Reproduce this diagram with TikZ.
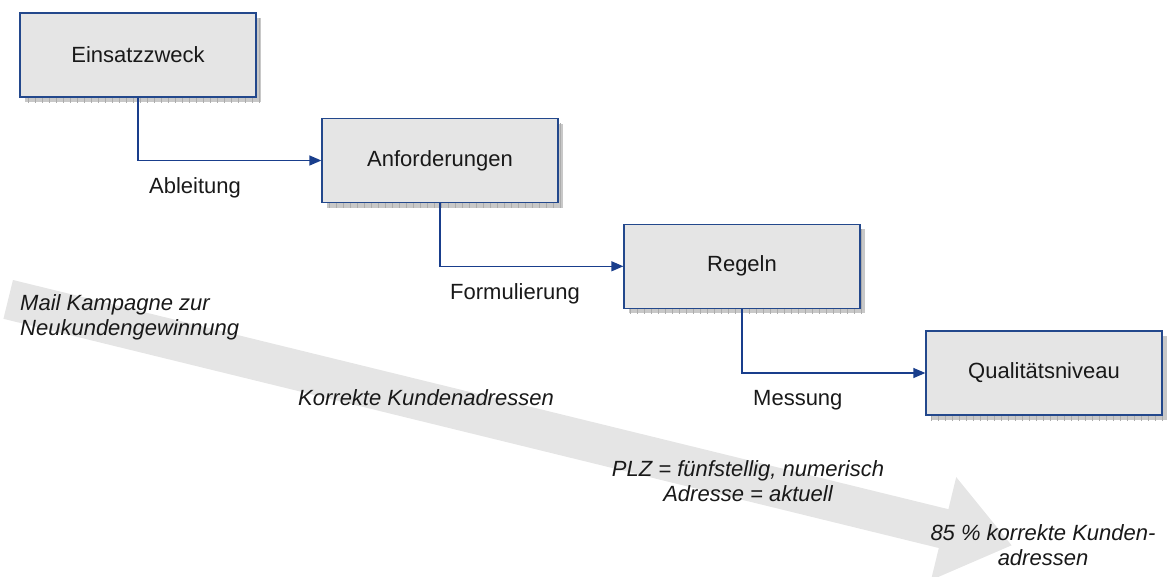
\documentclass[tikz,border=0pt]{standalone}
\usepackage{fontspec}
\setmainfont{Liberation Sans}
\usetikzlibrary{arrows.meta,calc}
\definecolor{boxfill}{RGB}{229,229,229}
\definecolor{boxline}{RGB}{35,72,140}
\definecolor{conline}{RGB}{25,62,140}
\definecolor{shadowfill}{RGB}{200,200,200}
\definecolor{shadowgrid}{RGB}{172,172,172}
\definecolor{bigarrow}{RGB}{229,229,229}
\definecolor{textcol}{RGB}{25,25,25}
\newcommand{\shadowedbox}[3]{%
  \fill[shadowfill] ($#2+(-113,-37)$) rectangle ($#2+(123,47)$);
  \begin{scope}
    \clip ($#2+(-113,-37)$) rectangle ($#2+(123,47)$);
    \draw[shadowgrid, line width=0.6pt, step=7] ($#2+(-126,-50)$) grid ($#2+(130,54)$);
  \end{scope}
  \node[qbox] (#1) at #2 {#3};
}
\begin{document}
\begin{tikzpicture}[x=1pt,y=-1pt,
  qbox/.style={draw=boxline, line width=1.3pt, fill=boxfill, minimum width=236pt,
    minimum height=84pt, inner sep=0pt, font=\fontsize{22}{25}\selectfont, text=textcol},
  conn/.style={draw=conline, line width=1.3pt, -{Triangle[length=12pt,width=10pt]}},
  lbl/.style={font=\fontsize{22}{25}\selectfont, inner sep=0pt, anchor=base west, text=textcol},
  note/.style={font=\fontsize{22}{25}\selectfont\itshape, inner sep=0pt, align=center, text=textcol},
  bigarrowstyle/.style={fill=bigarrow, draw=none}
]
\useasboundingbox (0,0) rectangle (1170,576);
% big background arrow
\fill[bigarrowstyle] (12.96,279.98) -- (948.4,509.2) -- (956.2,477.1) -- (1011.6,545.3)
  -- (931.0,580.1) -- (938.8,548.0) -- (3.44,318.8) -- cycle;
% boxes
\shadowedbox{b1}{(138,55)}{Einsatzzweck}
\shadowedbox{b2}{(440,160.5)}{Anforderungen}
\shadowedbox{b3}{(742,266.3)}{Regeln}
\shadowedbox{b4}{(1044,373)}{Qualitätsniveau}
% connectors
\draw[conn] (b1.south) |- (b2.west);
\draw[conn] (b2.south) |- (b3.west);
\draw[conn] (b3.south) |- (b4.west);
% connector labels
\node[lbl] (l1) at (149,193) {Ableitung};
\node[lbl] (l2) at (450,299) {Formulierung};
\node[lbl] (l3) at (753,405) {Messung};
% notes on the big arrow (base = baseline of last line)
\node[note, align=left, anchor=base west] (n1) at (20,335) {Mail Kampagne zur\\Neukundengewinnung};
\node[note, anchor=base west] (n2) at (298,405) {Korrekte Kundenadressen};
\node[note, anchor=base] (n3) at (748,501) {PLZ = fünfstellig, numerisch\\Adresse = aktuell};
\node[note, anchor=base] (n4) at (1043,565) {85 \% korrekte Kunden-\\adressen};
\end{tikzpicture}
\end{document}
